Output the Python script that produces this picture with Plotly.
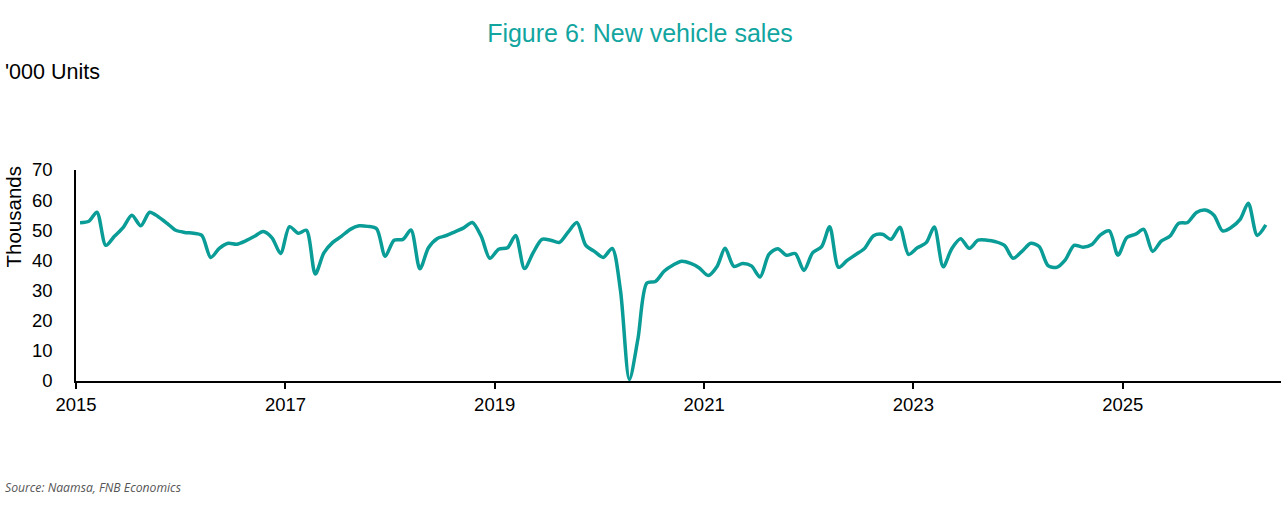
import pandas as pd
import plotly.graph_objects as go

# ============================================================================
# Data: new vehicle sales ('000 units), monthly Jan 2015 - May 2026
# ============================================================================

start_month = "2015-01-01"

sales_2015 = [52.5, 53, 56, 45, 48, 51, 55, 51.5, 56, 54.5, 52.3, 50]
sales_2016 = [49.3, 49, 48.3, 41, 44, 45.7, 45.4, 46.5, 48, 49.6, 47.5, 42.3]
sales_2017 = [51.2, 49, 50, 35.5, 42.5, 46, 48, 50.3, 51.5, 51.3, 50.5, 41.4]
sales_2018 = [46.7, 47, 50.1, 37.2, 44.2, 47.3, 48.2, 49.5, 50.8, 52.6, 48, 40.7]
sales_2019 = [43.7, 44.2, 48.3, 37.3, 42.5, 47, 46.7, 46, 49.5, 52.6, 45, 43]
sales_2020 = [41, 44, 30, 0.5, 14, 32.5, 33, 36.5, 38.5, 39.7, 39, 37.5]
sales_2021 = [35, 38, 44, 38, 39, 38.2, 34.5, 42, 43.9, 41.7, 42.3, 36.7]
sales_2022 = [42.6, 44.6, 51.2, 37.7, 40, 42, 44, 48.2, 48.7, 47, 51, 42]
sales_2023 = [44.2, 45.9, 51.1, 37.9, 43.9, 47.2, 44, 46.7, 46.7, 46.2, 45, 40.7]
sales_2024 = [43, 45.7, 44.6, 38.3, 37.7, 40.3, 45, 44.4, 45.3, 48.5, 49.8, 41.7]
sales_2025 = [47.6, 48.7, 50.3, 43, 46.4, 48.1, 52.3, 52.6, 55.9, 56.7, 55, 49.8]
sales_2026 = [51, 53.7, 59, 48.3, 51.8]

sales = (sales_2015 + sales_2016 + sales_2017 + sales_2018 + sales_2019 + sales_2020
         + sales_2021 + sales_2022 + sales_2023 + sales_2024 + sales_2025 + sales_2026)

# titik diletakkan di tengah bulan
months = pd.date_range(start_month, periods=len(sales), freq="MS") + pd.Timedelta(days=14)

teal = "#0A9C96"
font_family = "Liberation Sans, Arial, sans-serif"

# ============================================================================
# Plot
# ============================================================================

fig = go.Figure()

fig.add_trace(go.Scatter(
    x=months, y=sales,
    mode="lines",
    line=dict(color=teal, width=3.5, shape="spline", smoothing=0.8),
    showlegend=False,
    hoverinfo="x+y"
))

fig.update_layout(
    width=1281, height=521,
    margin=dict(l=76, r=0, t=170, b=140),
    paper_bgcolor="white",
    plot_bgcolor="white",
    font=dict(family=font_family, color="black", size=18),
    title=dict(
        text="Figure 6: New vehicle sales",
        font=dict(family=font_family, size=25, color="#12A5A0"),
        x=640 / 1281, xref="container", xanchor="center",
        y=1 - 33 / 521, yref="container", yanchor="middle"
    ),
    xaxis=dict(
        type="date",
        range=["2015-01-01", "2026-07-07"],
        tick0="2015-01-01", dtick="M24", tickformat="%Y",
        showgrid=False, zeroline=False,
        showline=True, linecolor="black", linewidth=1.5,
        ticks="outside", ticklen=6, tickcolor="black", tickwidth=1.5,
        tickfont=dict(size=18.5)
    ),
    yaxis=dict(
        range=[0, 70], dtick=10,
        showgrid=False, zeroline=False,
        showline=True, linecolor="black", linewidth=1.5,
        ticks="", ticklabelstandoff=18,
        tickfont=dict(size=18.5)
    ),
    annotations=[
        # judul sumbu y ditaruh di atas, seperti gaya Excel
        dict(text="Thousands", xref="paper", yref="paper", textangle=-90,
             x=(12.5 - 76) / 1205, y=(381 - 217) / 211,
             xanchor="center", yanchor="middle", showarrow=False,
             font=dict(size=20.5, color="black")),
        dict(text="'000 Units", xref="paper", yref="paper",
             x=(3 - 76) / 1205, y=(381 - 72) / 211,
             xanchor="left", yanchor="middle", showarrow=False,
             font=dict(size=21.5, color="black")),
        dict(text="<i>Source: Naamsa, FNB Economics</i>", xref="paper", yref="paper",
             x=(3 - 76) / 1205, y=(381 - 487) / 211,
             xanchor="left", yanchor="middle", showarrow=False,
             font=dict(family="Open Sans, sans-serif", size=12.2, color="#555555")),
    ],
)

# buang margin bawaan body supaya posisi sama dengan gambar asli
fig.write_html("out.html", config={"displayModeBar": False},
               post_script="document.body.style.margin='0';")
